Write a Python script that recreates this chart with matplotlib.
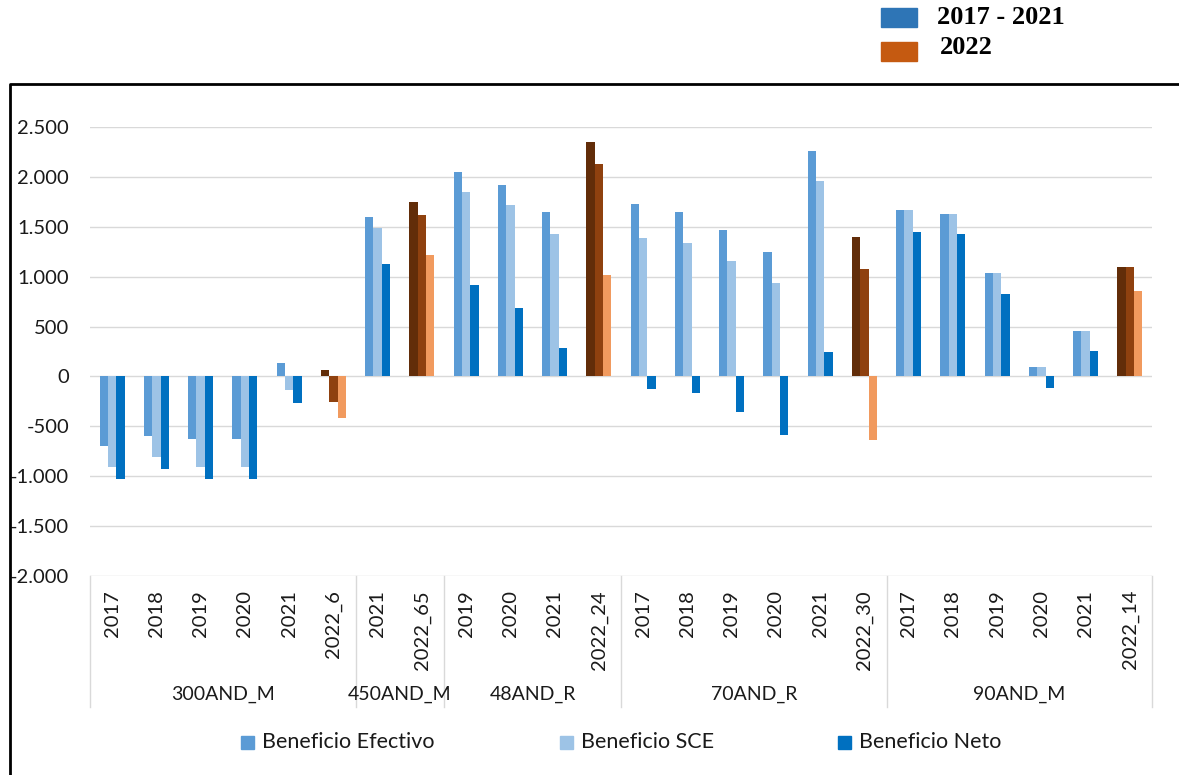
import matplotlib
matplotlib.use("Agg")
import matplotlib.pyplot as plt
from matplotlib.patches import Rectangle
from matplotlib.lines import Line2D
import matplotlib.transforms as mtransforms
import numpy as np

groups = ["300AND_M", "450AND_M", "48AND_R", "70AND_R", "90AND_M"]
group_labels = [
    ["2017", "2018", "2019", "2020", "2021", "2022_6"],
    ["2021", "2022_65"],
    ["2019", "2020", "2021", "2022_24"],
    ["2017", "2018", "2019", "2020", "2021", "2022_30"],
    ["2017", "2018", "2019", "2020", "2021", "2022_14"],
]

efectivo = [-700, -600, -630, -630, 130, 60,
            1600, 1750,
            2050, 1920, 1650, 2350,
            1730, 1650, 1470, 1250, 2260, 1400,
            1670, 1630, 1040, 90, 460, 1100]
sce = [-910, -810, -910, -910, -140, -260,
       1490, 1620,
       1850, 1720, 1430, 2130,
       1390, 1340, 1160, 940, 1960, 1080,
       1670, 1630, 1040, 90, 460, 1100]
neto = [-1030, -930, -1030, -1030, -270, -420,
        1130, 1220,
        920, 690, 290, 1020,
        -130, -170, -360, -590, 250, -640,
        1450, 1430, 830, -120, 260, 860]

series_names = ["Beneficio Efectivo", "Beneficio SCE", "Beneficio Neto"]
blue_cols = ["#5B9BD5", "#9DC3E6", "#0070C0"]
brown_cols = ["#622D09", "#8F410F", "#F19A5E"]

W, H = 1179, 775
fig = plt.figure(figsize=(W / 100, H / 100), dpi=100)
ax = fig.add_axes([90 / W, 1 - 576 / H, (1152 - 90) / W, (576 - 127) / H])

font = "Lato"
txt_col = "#1a1a1a"

labels = [lab for g in group_labels for lab in g]
x = np.arange(len(labels))
is_2022 = [lab.startswith("2022") for lab in labels]

bw = 0.188
for i, vals in enumerate([efectivo, sce, neto]):
    cols = [brown_cols[i] if f else blue_cols[i] for f in is_2022]
    ax.bar(x + (i - 1) * bw, vals, width=bw, color=cols, zorder=3, linewidth=0)

ax.set_xlim(-0.5, len(labels) - 0.5)
ax.set_ylim(-2000, 2500)
ax.set_yticks(np.arange(-2000, 2501, 500))
ax.set_yticklabels([f"{v:,}".replace(",", ".") for v in range(-2000, 2501, 500)],
                   fontfamily=font, fontsize=14.5, color=txt_col)
ax.grid(axis="y", color="#D9D9D9", linewidth=1, zorder=0)
for s in ax.spines.values():
    s.set_visible(False)
ax.tick_params(axis="y", length=0, pad=15)
ax.set_xticks(x)
ax.set_xticklabels(labels, rotation=90, va="top", ha="center",
                   fontfamily=font, fontsize=14.5, color=txt_col)
ax.tick_params(axis="x", length=0, pad=10)

# group separators and labels below the axis
trans = mtransforms.blended_transform_factory(ax.transData, ax.transAxes)
depth = (707 - 576) / (576 - 127)
start = -0.5
for g, labs in zip(groups, group_labels):
    end = start + len(labs)
    ax.text((start + end) / 2, -(694 - 576) / (576 - 127), g, transform=trans,
            ha="center", va="center", fontfamily=font, fontsize=14, color=txt_col)
    start = end
bounds = np.cumsum([0] + [len(g) for g in group_labels]) - 0.5
for b in bounds:
    ax.add_line(Line2D([b, b], [0, -depth], transform=trans, color="#D9D9D9",
                       linewidth=1, clip_on=False))

# bottom legend
leg_items = [(241, 262), (560, 581), (838, 859)]
for (mx, tx), name, col in zip(leg_items, series_names, blue_cols):
    fig.add_artist(Rectangle((mx / W, 1 - 749 / H), 13 / W, 13 / H,
                             transform=fig.transFigure, color=col))
    fig.text(tx / W, 1 - 742 / H, name, ha="left", va="center",
             fontfamily=font, fontsize=15.5, color=txt_col)

# top legend (periods)
for (ry, ty), lab, col in zip([(8, 18), (42, 48)], ["2017 - 2021", "2022"],
                              ["#2E75B6", "#C55A11"]):
    fig.add_artist(Rectangle((881 / W, 1 - (ry + 19) / H), 36 / W, 19 / H,
                             transform=fig.transFigure, color=col))
    fig.text((937 if lab != "2022" else 940) / W, 1 - ty / H, lab, ha="left",
             va="center", fontfamily="Liberation Serif", fontweight="bold",
             fontsize=19, color="black")

# outer frame (left and top edges visible)
fig.add_artist(Line2D([10 / W, 10 / W, 1], [0, 1 - 84 / H, 1 - 84 / H],
                      transform=fig.transFigure, color="black", linewidth=2))

fig.savefig("out.png", dpi=100)
